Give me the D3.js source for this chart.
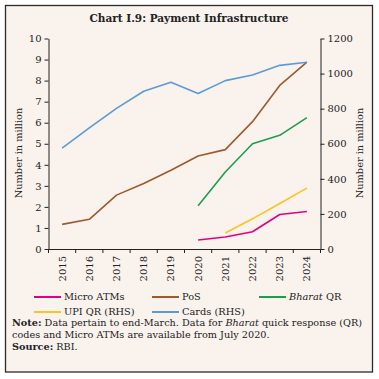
<html>
  <head>
    <script src="https://cdn.jsdelivr.net/npm/d3@7"></script>
    <style>
      body { margin: 0; background: #fff; }
      text { font-family: "DejaVu Serif", serif; fill: #222; }
    </style>
  </head>
  <body>
    <div id="chart"></div>
  </body>
  <script>
    var years = ["2015", "2016", "2017", "2018", "2019", "2020", "2021", "2022", "2023", "2024"];
    // left axis series (number in million)
    var microAtms = [null, null, null, null, null, 0.43, 0.57, 0.82, 1.64, 1.78];
    var pos = [1.17, 1.41, 2.56, 3.11, 3.74, 4.42, 4.72, 6.05, 7.77, 8.88];
    var bharatQr = [null, null, null, null, null, 2.05, 3.66, 5.0, 5.4, 6.24];
    // right axis series
    var upiQr = [null, null, null, null, null, null, 91, 172, 259, 347];
    var cards = [575, 690, 802, 899, 951, 887, 960, 992, 1047, 1065];

    var leftTicks = [0, 1, 2, 3, 4, 5, 6, 7, 8, 9, 10];
    var rightTicks = [0, 200, 400, 600, 800, 1000, 1200];

    var series = [
      { name: "Micro ATMs", values: microAtms, axis: "L", color: "#e6007e" },
      { name: "PoS", values: pos, axis: "L", color: "#9e5a2c" },
      { name: "Bharat QR", values: bharatQr, axis: "L", color: "#1e9e4c" },
      { name: "UPI QR (RHS)", values: upiQr, axis: "R", color: "#fdc322" },
      { name: "Cards (RHS)", values: cards, axis: "R", color: "#5b9bd5" },
    ];

    var W = 379, H = 379;
    var svg = d3.select("#chart").append("svg").attr("width", W).attr("height", H);

    // frame
    svg.append("rect")
      .attr("x", 5.5).attr("y", 5.5).attr("width", 367).attr("height", 366.5)
      .attr("fill", "#f9f2ed").attr("stroke", "#2b2b2b").attr("stroke-width", 1.3);

    svg.append("text")
      .attr("x", 189).attr("y", 22)
      .attr("text-anchor", "middle")
      .attr("font-weight", "bold")
      .attr("font-size", 10.5)
      .text("Chart I.9: Payment Infrastructure");

    var x = d3.scaleBand().domain(years).range([48.5, 320.5]);
    var yL = d3.scaleLinear().domain([0, 10]).range([249, 38.5]);
    var yR = d3.scaleLinear().domain([0, 1200]).range([249, 38.5]);

    var tickFont = 10;

    // left axis
    svg.append("g")
      .attr("transform", "translate(48.5,0)")
      .call(d3.axisLeft(yL).tickValues(leftTicks).tickSize(4).tickSizeOuter(0).tickFormat(d3.format("d")))
      .call((g) => g.selectAll("text").attr("font-size", tickFont).attr("font-family", "DejaVu Serif").attr("fill", "#222"))
      .call((g) => g.selectAll("path,line").attr("stroke", "#222"));

    // right axis
    svg.append("g")
      .attr("transform", "translate(320.5,0)")
      .call(d3.axisRight(yR).tickValues(rightTicks).tickSize(4).tickSizeOuter(0).tickFormat(d3.format("d")))
      .call((g) => g.selectAll("text").attr("font-size", tickFont).attr("font-family", "DejaVu Serif").attr("fill", "#222"))
      .call((g) => g.selectAll("path,line").attr("stroke", "#222"));

    // x axis: labels at band centres, ticks at band edges
    var xAxis = svg.append("g").attr("transform", "translate(0,249)");
    xAxis.call(d3.axisBottom(x).tickSize(0).tickSizeOuter(0))
      .call((g) => g.select(".domain").attr("stroke", "#222"))
      .call((g) =>
        g.selectAll(".tick text")
          .attr("font-size", tickFont)
          .attr("font-family", "DejaVu Serif")
          .attr("fill", "#222")
          .attr("transform", "rotate(-90)")
          .attr("text-anchor", "end")
          .attr("x", -7)
          .attr("y", 0)
          .attr("dy", "0.35em")
      );
    xAxis.selectAll(".edge")
      .data(years.concat(["end"]))
      .enter()
      .append("line")
      .attr("x1", (d, i) => x.range()[0] + i * x.step())
      .attr("x2", (d, i) => x.range()[0] + i * x.step())
      .attr("y1", 0).attr("y2", 4)
      .attr("stroke", "#222");

    // axis titles
    svg.append("text")
      .attr("transform", "translate(22,153) rotate(-90)")
      .attr("text-anchor", "middle")
      .attr("font-size", 9.8)
      .text("Number in million");
    svg.append("text")
      .attr("transform", "translate(363,153) rotate(-90)")
      .attr("text-anchor", "middle")
      .attr("font-size", 9.8)
      .text("Number in million");

    // lines
    series.forEach(function (s) {
      var yS = s.axis === "L" ? yL : yR;
      var line = d3.line()
        .defined((d) => d != null)
        .x((d, i) => x(years[i]) + x.bandwidth() / 2)
        .y((d) => yS(d));
      svg.append("path")
        .datum(s.values)
        .attr("fill", "none")
        .attr("stroke", s.color)
        .attr("stroke-width", 1.6)
        .attr("stroke-linejoin", "round")
        .attr("d", line);
    });

    // legend
    var legendPos = [
      [34, 297], [152, 297], [259, 297],
      [34, 312], [152, 312],
    ];
    series.forEach(function (s, i) {
      var g = svg.append("g").attr("transform", "translate(" + legendPos[i][0] + "," + legendPos[i][1] + ")");
      g.append("line").attr("x1", 0).attr("x2", 27).attr("y1", 0).attr("y2", 0)
        .attr("stroke", s.color).attr("stroke-width", 2);
      var t = g.append("text").attr("x", 30).attr("y", 0).attr("dy", "0.35em").attr("font-size", 9.8);
      if (s.name === "Bharat QR") {
        t.append("tspan").attr("font-style", "italic").text("Bharat");
        t.append("tspan").text(" QR");
      } else {
        t.text(s.name);
      }
    });

    // notes
    var noteFont = 9.7;
    var n1 = svg.append("text").attr("x", 12).attr("y", 326).attr("font-size", noteFont);
    n1.append("tspan").attr("font-weight", "bold").text("Note:");
    n1.append("tspan").text(" Data pertain to end-March. Data for ");
    n1.append("tspan").attr("font-style", "italic").text("Bharat");
    n1.append("tspan").text(" quick response (QR)");
    svg.append("text").attr("x", 12).attr("y", 337.5).attr("font-size", noteFont)
      .text("codes and Micro ATMs are available from July 2020.");
    var n3 = svg.append("text").attr("x", 12).attr("y", 349.5).attr("font-size", noteFont);
    n3.append("tspan").attr("font-weight", "bold").text("Source:");
    n3.append("tspan").text(" RBI.");
  </script>
</html>
